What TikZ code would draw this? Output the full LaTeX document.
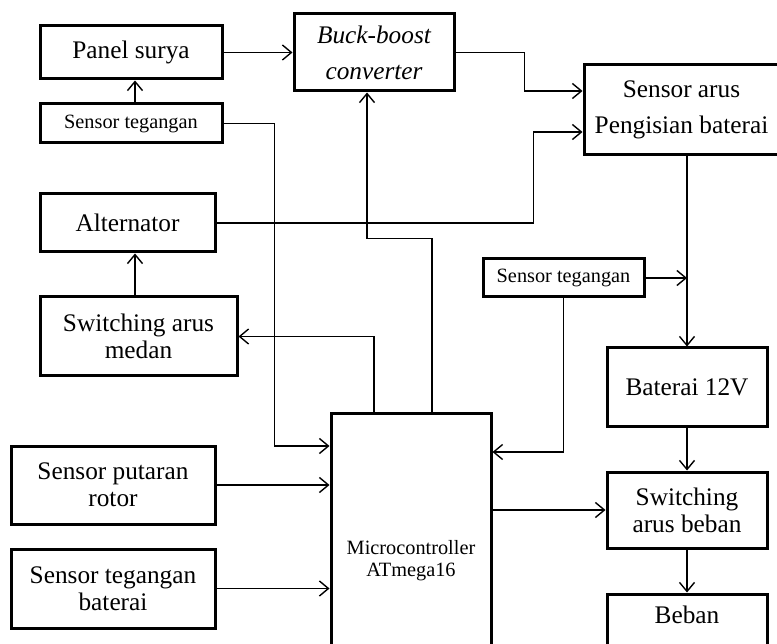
\documentclass[tikz,border=0pt]{standalone}
\usepackage{fontspec}
\setmainfont{Liberation Serif}
\usetikzlibrary{arrows.meta}
\tikzset{x=1pt, y=-1pt,
blok/.style={ % Sets the properties for each block
draw,
line width=3pt,
inner sep=0pt,
align=center,
font=\fontsize{25.3}{27}\selectfont},
kecil/.style={font=\fontsize{20.3}{22}\selectfont}, % small text
>={Straight Barb[length=9pt,width=15pt]},
hub/.style={ % Sets the properties for each connector
->,
line width=1.4pt}}

\begin{document}
\begin{tikzpicture}
\useasboundingbox (0,0) rectangle (777,644);
\clip (0,0) rectangle (777,644);
\node[blok, minimum width=182pt, minimum height=53pt] (ps) at (131,52.5) {Panel surya};
\node[blok, kecil, minimum width=182pt, minimum height=39pt] (st1) at (131,123.5) {Sensor tegangan};
\node[blok, minimum width=160pt, minimum height=77pt, font=\itshape\fontsize{25.3}{36}\selectfont] (bb) at (374,52.5) {Buck-boost\\converter};
\node[blok, minimum width=195pt, minimum height=90pt, font=\fontsize{25.3}{36}\selectfont] (sa) at (681.5,110) {Sensor arus\\Pengisian baterai};
\node[blok, minimum width=175pt, minimum height=58pt] (alt) at (127.5,223) {Alternator};
\node[blok, minimum width=197pt, minimum height=79pt] (swm) at (138.5,336.5) {Switching arus\\medan};
\node[blok, kecil, minimum width=161pt, minimum height=38pt] (st2) at (563.5,278) {Sensor tegangan};
\node[blok, minimum width=160pt, minimum height=79pt] (bat) at (687,387.5) {Baterai 12V};
\node[blok, kecil, minimum width=160pt, minimum height=294pt] (mcu) at (411,561) {Microcontroller\\ATmega16};
\node[blok, minimum width=204pt, minimum height=78pt] (rot) at (113,485) {Sensor putaran\\rotor};
\node[blok, minimum width=204pt, minimum height=79pt] (stb) at (113,588.5) {Sensor tegangan\\baterai};
\node[blok, minimum width=160pt, minimum height=76pt] (swb) at (687,510) {Switching\\arus beban};
\node[blok, minimum width=160pt, minimum height=76pt] (beb) at (687,632) {Beban\\ \strut};
% panel surya side
\draw[hub] ([xshift=4pt]st1.north) -- ([xshift=4pt]ps.south);
\draw[hub] (ps) -- (bb);
\draw[hub] (bb.east) -- ++(69,0) |- ([yshift=19pt]sa.west);
\draw[hub] (alt.east) -- ++(317,0) |- ([yshift=-22pt]sa.west);
\draw[hub] (st1.east) -- ++(51,0) |- ([yshift=115pt]mcu.west);
% outputs of the microcontroller
\draw[hub] ([xshift=-37pt]mcu.north) |- (swm.east);
\draw[hub] ([xshift=21pt]mcu.north) -- ++(0,-174) -| ([xshift=-7pt]bb.south);
\draw[hub] ([xshift=-3.5pt]swm.north) -- ([xshift=-3.5pt]swm.north |- alt.south);
\draw[hub] (mcu.east |- swb.west) -- (swb.west);
% battery side
\draw[hub] (sa.south -| bat.north) -- (bat.north);
\draw[hub] (st2.east) -- (st2.east -| bat.north);
\draw[hub] (st2.south) |- ([yshift=109pt]mcu.east);
\draw[hub] (bat) -- (swb);
\draw[hub] (swb) -- (beb);
% sensors into the microcontroller
\draw[hub] (rot.east) -- (rot.east -| mcu.west);
\draw[hub] (stb.east) -- (stb.east -| mcu.west);
\end{tikzpicture}
\end{document}
